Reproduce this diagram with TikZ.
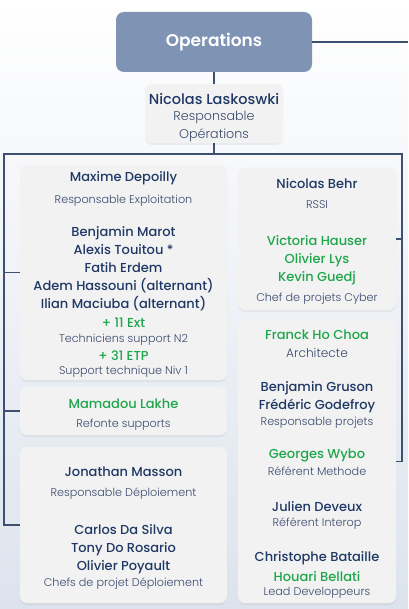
\documentclass[tikz,border=0pt]{standalone}
\usepackage{fontspec}
\setmainfont{Poppins}
\newfontfamily\headfont{Poppins SemiBold}
\newfontfamily\namefont{Poppins Medium}
\newfontfamily\rolefont{Poppins Light}
\usetikzlibrary{positioning,shadows}
\usepackage{xcolor}
\definecolor{OpsBlue}{RGB}{127,147,181}
\definecolor{LinkBlue}{RGB}{62,80,112}
\definecolor{NameBlue}{RGB}{31,56,100}
\definecolor{RoleBlue}{RGB}{59,74,108}
\definecolor{TeamGreen}{RGB}{31,166,74}
\definecolor{CardGray}{RGB}{242,242,243}
\definecolor{BgBlue}{RGB}{221,227,237}

\begin{document}
\begin{tikzpicture}[
x=1pt, y=-1pt,
card/.style={
rectangle,
rounded corners=7pt,
fill=CardGray,
drop shadow={opacity=0.10, shadow xshift=0pt, shadow yshift=-2pt},
inner sep=0pt
},
head/.style={
rectangle,
rounded corners=8pt,
fill=OpsBlue,
text=white,
minimum width=196pt,
minimum height=60pt,
font=\headfont\fontsize{17}{20}\selectfont
},
person/.style={
align=center,
text=NameBlue,
inner sep=0pt,
yshift=-1.5pt,
font=\namefont\fontsize{13}{18}\selectfont
},
team/.style={
person,
text=TeamGreen
},
duty/.style={
align=center,
text=RoleBlue,
inner sep=0pt,
yshift=-1.5pt,
font=\rolefont\fontsize{11.2}{16}\selectfont
},
link/.style={
draw=LinkBlue,
line width=1.2pt
}
]

\useasboundingbox (0,0) rectangle (408,609);
\shade[top color=white, bottom color=BgBlue] (0,0) rectangle (408,609);

% boxes
\node[head] (ops) at (214,42) {Operations};
\node[card, minimum width=138pt, minimum height=59pt] (lead) at (214,113.5) {};
\node[card, minimum width=207pt, minimum height=215pt] (maxime) at (123.5,272.5) {};
\node[card, minimum width=207pt, minimum height=48pt] (mamadou) at (123.5,411) {};
\node[card, minimum width=207pt, minimum height=156pt] (jonathan) at (123.5,525) {};
\node[card, minimum width=158pt, minimum height=142pt] (behr) at (317,239) {};
\node[card, minimum width=158pt, minimum height=283pt] (franck) at (317,461.5) {};

% connectors
\coordinate (opsR) at (408,42);
\coordinate (busL) at (4,154);
\coordinate (busR) at (402,154);
\coordinate (busM) at (214,154);
\draw[link] (ops.east) -- (opsR);
\draw[link] (ops.south) -- (lead.north);
\draw[link] (lead.south) -- (busM);
\draw[link] (jonathan.west) -| (busL) -- (busR) |- (franck.east);
\draw[link] (maxime.west) -- (maxime.west -| busL);
\draw[link] (mamadou.west) -- (mamadou.west -| busL);
\draw[link] (behr.east) -- (behr.east -| busR);

% lead
\node[person, font=\namefont\fontsize{14.5}{18}\selectfont] (leadN) at (214,97) {Nicolas Laskoswki};
\node[duty, font=\rolefont\fontsize{12.7}{18}\selectfont] (leadR) at (214,125) {Responsable\\Opérations};

% exploitation
\node[person] (maximeN) at (123.5,177) {Maxime Depoilly};
\node[duty] (maximeR) at (123.5,199) {Responsable Exploitation};
\node[person] (maximeT) at (123.5,267.5) {Benjamin Marot\\Alexis Touitou *\\Fatih Erdem\\Adem Hassouni (alternant)\\Ilian Maciuba (alternant)};
\node[team] (extG) at (123.5,321) {+ 11 Ext};
\node[duty] (extR) at (123.5,338) {Techniciens support N2};
\node[team] (etpG) at (123.5,354) {+ 31 ETP};
\node[duty] (etpR) at (123.5,370) {Support technique Niv 1};

% refonte
\node[team] (mamadouN) at (123.5,402) {Mamadou Lakhe};
\node[duty] (mamadouR) at (123.5,423) {Refonte supports};

% deploiement
\node[person] (jonathanN) at (123.5,470) {Jonathan Masson};
\node[duty] (jonathanR) at (123.5,492) {Responsable Déploiement};
\node[person] (jonathanT) at (123.5,548) {Carlos Da Silva\\Tony Do Rosario\\Olivier Poyault};
\node[duty] (jonathanTR) at (123.5,582) {Chefs de projet Déploiement};

% cyber
\node[person] (behrN) at (317,182) {Nicolas Behr};
\node[duty] (behrR) at (317,203) {RSSI};
\node[team] (behrT) at (317,258.5) {Victoria Hauser\\Olivier Lys\\Kevin Guedj};
\node[duty] (behrTR) at (317,297) {Chef de projets Cyber};

% architecture
\node[team] (franckN) at (317,333) {Franck Ho Choa};
\node[duty, font=\rolefont\fontsize{12.2}{16}\selectfont] (franckR) at (317,351) {Architecte};
\node[person] (projN) at (317,396) {Benjamin Gruson\\Frédéric Godefroy};
\node[duty] (projR) at (317,421) {Responsable projets};
\node[team] (wyboN) at (317,454) {Georges Wybo};
\node[duty] (wyboR) at (317,470) {Référent Methode};
\node[person] (deveuxN) at (317,505) {Julien Deveux};
\node[duty] (deveuxR) at (317,522) {Référent Interop};
\node[person] (leadDevN) at (317,557) {Christophe Bataille};
\node[team] (leadDevG) at (317,575) {Houari Bellati};
\node[duty] (leadDevR) at (317,591) {Lead Developpeurs};

\end{tikzpicture}
\end{document}
